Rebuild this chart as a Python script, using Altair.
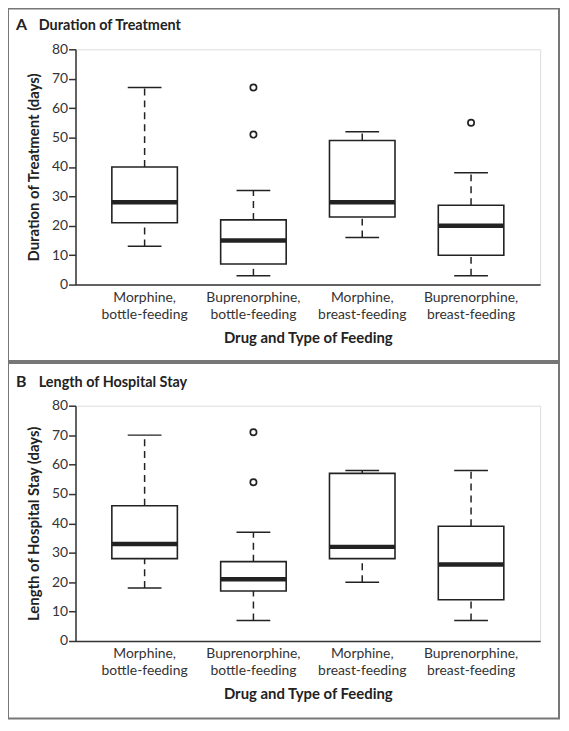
import altair as alt
import pandas as pd

categories = [
    "Morphine, bottle-feeding",
    "Buprenorphine, bottle-feeding",
    "Morphine, breast-feeding",
    "Buprenorphine, breast-feeding",
]
y_ticks = [0, 10, 20, 30, 40, 50, 60, 70, 80]

# Panel A: Duration of Treatment (days)
a_low = [13, 3, 16, 3]
a_q1 = [21, 7, 23, 10]
a_median = [28, 15, 28, 20]
a_q3 = [40, 22, 49, 27]
a_high = [67, 32, 52, 38]
a_outlier_cat = [categories[1], categories[1], categories[3]]
a_outlier_val = [51, 67, 55]

# Panel B: Length of Hospital Stay (days)
b_low = [18, 7, 20, 7]
b_q1 = [28, 17, 28, 14]
b_median = [33, 21, 32, 26]
b_q3 = [46, 27, 57, 39]
b_high = [70, 37, 58, 58]
b_outlier_cat = [categories[1], categories[1]]
b_outlier_val = [54, 71]

FONT = "Lato"
INK = "#222222"
W, H = 468, 237


def panel(letter, title, ytitle, low, q1, med, q3, high, ocat, oval, ftop, fbot):
    df = pd.DataFrame({"cat": categories, "low": low, "q1": q1, "med": med,
                       "q3": q3, "high": high})
    odf = pd.DataFrame({"cat": ocat, "val": oval})
    one = pd.DataFrame({"t": [letter], "u": [title]})

    x = alt.X("cat:N", sort=categories,
              scale=alt.Scale(domain=categories, paddingInner=0, paddingOuter=0.135),
              axis=alt.Axis(title="Drug and Type of Feeding", labelAngle=0,
                            labelExpr="split(datum.label, ' ')",
                            ticks=False, tickSize=0, labelPadding=6,
                            labelLineHeight=17, labelFontSize=14,
                            titlePadding=9, titleFontSize=15,
                            titleFontWeight="bold", domainWidth=1.5,
                            domainColor="#333333", labelColor="#333333",
                            titleColor=INK, labelFont=FONT, titleFont=FONT))
    yscale = alt.Scale(domain=[0, 80], nice=False, zero=True)
    yaxis = alt.Axis(title=ytitle, values=y_ticks, grid=False, tickSize=7,
                     tickWidth=1.5, domainWidth=1.5, domainColor="#333333",
                     tickColor="#333333", labelColor="#333333", labelFontSize=14,
                     labelPadding=1, titleFontSize=15, titleFontWeight="bold",
                     titleColor=INK, titlePadding=10, labelFont=FONT,
                     titleFont=FONT)

    base = alt.Chart(df)
    frame = alt.Chart(one).mark_rect(fillOpacity=0, stroke="#777777",
                                      strokeWidth=2).encode(
        x=alt.value(-68), x2=alt.value(487), y=alt.value(ftop), y2=alt.value(fbot))
    t_letter = alt.Chart(one).mark_text(align="left", baseline="alphabetic",
                                        font=FONT, fontSize=16, fontWeight="bold",
                                        color=INK).encode(
        text="t:N", x=alt.value(-60), y=alt.value(-19))
    t_title = alt.Chart(one).mark_text(align="left", baseline="alphabetic",
                                       font=FONT, fontSize=14.5, fontWeight="bold",
                                       color=INK).encode(
        text="u:N", x=alt.value(-37), y=alt.value(-19))

    w_up = base.mark_rule(strokeDash=[7, 5], strokeWidth=1.5, color=INK).encode(
        x=x, y=alt.Y("q3:Q", scale=yscale, axis=yaxis), y2="high:Q")
    w_lo = base.mark_rule(strokeDash=[7, 5], strokeWidth=1.5, color=INK).encode(
        x=x, y=alt.Y("low:Q", scale=yscale, axis=yaxis), y2="q1:Q")
    cap_hi = base.mark_tick(size=34, thickness=1.5, color=INK, opacity=1).encode(
        x=x, y=alt.Y("high:Q", scale=yscale, axis=yaxis))
    cap_lo = base.mark_tick(size=34, thickness=1.5, color=INK, opacity=1).encode(
        x=x, y=alt.Y("low:Q", scale=yscale, axis=yaxis))
    box = base.mark_bar(size=66, fill="white", stroke=INK, strokeWidth=1.6).encode(
        x=x, y=alt.Y("q1:Q", scale=yscale, axis=yaxis), y2="q3:Q")
    median = base.mark_tick(size=66, thickness=4.5, color=INK, opacity=1).encode(
        x=x, y=alt.Y("med:Q", scale=yscale, axis=yaxis))
    outl = alt.Chart(odf).mark_point(shape="circle", filled=False, size=40,
                                     strokeWidth=1.7, color=INK, opacity=1).encode(
        x=x, y=alt.Y("val:Q", scale=yscale, axis=yaxis))

    return alt.layer(frame, w_up, w_lo, cap_hi, cap_lo, box, median, outl,
                     t_letter, t_title).properties(width=W, height=H)


pa = panel("A", "Duration of Treatment", "Duration of Treatment (days)",
           a_low, a_q1, a_median, a_q3, a_high, a_outlier_cat, a_outlier_val,
           -41, 314)
pb = panel("B", "Length of Hospital Stay", "Length of Hospital Stay (days)",
           b_low, b_q1, b_median, b_q3, b_high, b_outlier_cat, b_outlier_val,
           -43, 315)

chart = alt.vconcat(pa, pb, spacing=-2).properties(
    padding={"left": -2, "top": -4, "right": 0, "bottom": 0}
).configure_view(strokeWidth=0).configure(background="white")

chart.save("out.html", embed_options={"renderer": "svg", "actions": False})
